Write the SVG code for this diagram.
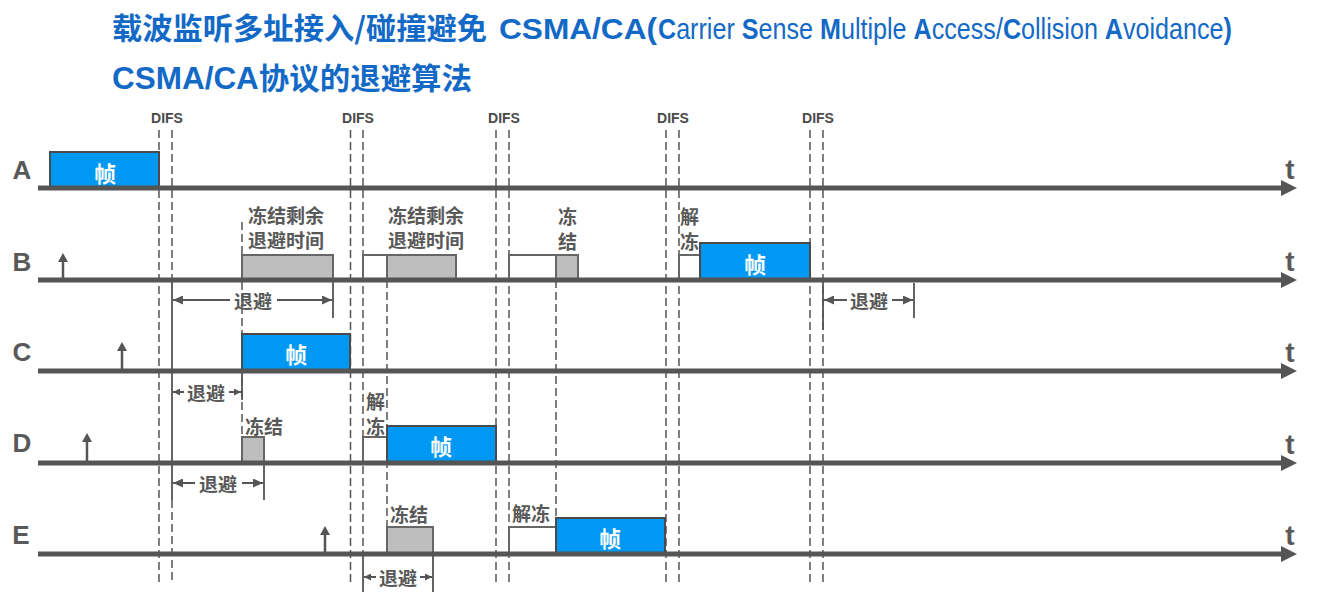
<svg xmlns="http://www.w3.org/2000/svg" width="1325" height="594" viewBox="0 0 1325 594">
<defs>
<style>
.t1{font-family:"Noto Sans CJK SC","Liberation Sans",sans-serif;font-weight:bold;font-size:30px;fill:#1369C6}
.lat{font-family:"Liberation Sans",Arial,sans-serif;font-weight:normal}
.b{font-weight:bold}
.lbl{font-family:"Noto Sans CJK SC",sans-serif;font-weight:bold;font-size:19px;fill:#595959}
.row{font-family:"Liberation Sans",sans-serif;font-weight:bold;font-size:26px;fill:#595959}
.tt{font-family:"Liberation Sans",sans-serif;font-weight:bold;font-size:28px;fill:#595959}
.difs{font-family:"Liberation Sans",sans-serif;font-weight:bold;font-size:14px;fill:#4a4a4a}
.frm{fill:#0098F2;stroke:#4a4a4a;stroke-width:2}
.gry{fill:#BEBEBE;stroke:#666;stroke-width:2}
.wht{fill:#fff;stroke:#666;stroke-width:2}
.ft{font-family:"Noto Sans CJK SC",sans-serif;font-weight:bold;font-size:22px;fill:#fff}
.axis{stroke:#555;stroke-width:5}
.head{fill:#555}
.dash{stroke:#555;stroke-width:1.5;stroke-dasharray:8 4;fill:none}
.tick{stroke:#555;stroke-width:1.8}
.bo{stroke:#555;stroke-width:2;marker-end:url(#sm)}
.bos{stroke:#555;stroke-width:2;marker-end:url(#xs)}
.up{stroke:#555;stroke-width:2.5}
</style>
<marker id="sm" markerUnits="userSpaceOnUse" markerWidth="10" markerHeight="9" refX="10" refY="4.5" orient="auto"><path d="M0,0 L10,4.5 L0,9 z" fill="#555"/></marker>
<marker id="xs" markerUnits="userSpaceOnUse" markerWidth="7" markerHeight="7" refX="7" refY="3.5" orient="auto"><path d="M0,0 L7,3.5 L0,7 z" fill="#555"/></marker>
</defs>
<rect width="1325" height="594" fill="#fff"/>

<g id="title">
<text class="t1" x="112" y="39" textLength="375" lengthAdjust="spacingAndGlyphs">载波监听多址接入/碰撞避免</text>
<text class="t1 lat b" x="499" y="39" font-size="31" textLength="158" lengthAdjust="spacingAndGlyphs">CSMA/CA(</text>
<text class="t1 lat" font-size="32" transform="translate(658,39) scale(0.838,1)"><tspan class="b">C</tspan>arrier <tspan class="b">S</tspan>ense <tspan class="b">M</tspan>ultiple <tspan class="b">A</tspan>ccess/<tspan class="b">C</tspan>ollision <tspan class="b">A</tspan>voidance<tspan class="b">)</tspan></text>
<text class="t1" x="112" y="89" font-size="31" textLength="360" lengthAdjust="spacingAndGlyphs"><tspan class="lat b" font-size="31">CSMA/CA</tspan>协议的退避算法</text>
</g>

<g id="difs-lines">
<path class="dash" d="M159,130V583 M172,130V280 M350.5,130V583 M363,130V554 M496,130V583 M509,130V583 M666,130V583 M679,130V583 M810,130V583 M823,130V583 M172,500V583"/>
<path class="dash" d="M242,222V437 M387,280V527 M556,280V518"/>
<text class="difs" x="167" y="123" text-anchor="middle">DIFS</text>
<text class="difs" x="358" y="123" text-anchor="middle">DIFS</text>
<text class="difs" x="504" y="123" text-anchor="middle">DIFS</text>
<text class="difs" x="673" y="123" text-anchor="middle">DIFS</text>
<text class="difs" x="818" y="123" text-anchor="middle">DIFS</text>
</g>

<g id="row-A">
<text class="row" x="22" y="170" text-anchor="middle" dominant-baseline="central">A</text>
<rect class="frm" x="50" y="152" width="109" height="35"/>
<text class="ft" x="105" y="172" text-anchor="middle" dominant-baseline="central">帧</text>
<line class="axis" x1="38" y1="188" x2="1284" y2="188"/>
<polygon class="head" points="1281,180 1297,188 1281,196"/>
<text class="tt" x="1290" y="179" text-anchor="middle">t</text>
</g>

<g id="row-B">
<text class="row" x="22" y="262" text-anchor="middle" dominant-baseline="central">B</text>
<line class="up" x1="63" y1="280" x2="63" y2="259"/>
<polygon class="head" points="58,262 63,253 68,262"/>
<rect class="gry" x="242" y="255" width="91" height="25"/>
<text class="lbl" x="248" y="214" dominant-baseline="central">冻结剩余</text>
<text class="lbl" x="248" y="239" dominant-baseline="central">退避时间</text>
<rect class="wht" x="363" y="255" width="24" height="25"/>
<rect class="gry" x="387" y="255" width="69" height="25"/>
<text class="lbl" x="388" y="214" dominant-baseline="central">冻结剩余</text>
<text class="lbl" x="388" y="239" dominant-baseline="central">退避时间</text>
<rect class="wht" x="509" y="255" width="47" height="25"/>
<rect class="gry" x="556" y="255" width="22" height="25"/>
<text class="lbl" x="558" y="215" dominant-baseline="central">冻</text>
<text class="lbl" x="558" y="240" dominant-baseline="central">结</text>
<rect class="wht" x="679" y="255" width="21" height="25"/>
<rect class="frm" x="700" y="243" width="110" height="37"/>
<text class="ft" x="755" y="263" text-anchor="middle" dominant-baseline="central">帧</text>
<text class="lbl" x="680" y="215" dominant-baseline="central">解</text>
<text class="lbl" x="680" y="240" dominant-baseline="central">冻</text>
<line class="axis" x1="38" y1="280" x2="1284" y2="280"/>
<polygon class="head" points="1281,272 1297,280 1281,288"/>
<text class="tt" x="1290" y="271" text-anchor="middle">t</text>
</g>

<g id="row-C">
<text class="row" x="22" y="352" text-anchor="middle" dominant-baseline="central">C</text>
<line class="up" x1="122" y1="371" x2="122" y2="348"/>
<polygon class="head" points="117,351 122,342 127,351"/>
<rect class="frm" x="242" y="334" width="108" height="37"/>
<text class="ft" x="296" y="353" text-anchor="middle" dominant-baseline="central">帧</text>
<line class="axis" x1="38" y1="371" x2="1284" y2="371"/>
<polygon class="head" points="1281,363 1297,371 1281,379"/>
<text class="tt" x="1290" y="362" text-anchor="middle">t</text>
</g>

<g id="row-D">
<text class="row" x="22" y="443" text-anchor="middle" dominant-baseline="central">D</text>
<line class="up" x1="87" y1="463" x2="87" y2="439"/>
<polygon class="head" points="82,442 87,433 92,442"/>
<rect class="gry" x="242" y="437" width="22" height="26"/>
<text class="lbl" x="245" y="425" dominant-baseline="central">冻结</text>
<rect class="wht" x="363" y="437" width="24" height="26"/>
<text class="lbl" x="366" y="400" dominant-baseline="central">解</text>
<text class="lbl" x="366" y="425" dominant-baseline="central">冻</text>
<rect class="frm" x="387" y="426" width="109" height="37"/>
<text class="ft" x="441" y="445" text-anchor="middle" dominant-baseline="central">帧</text>
<line class="axis" x1="38" y1="463" x2="1284" y2="463"/>
<polygon class="head" points="1281,455 1297,463 1281,471"/>
<text class="tt" x="1290" y="454" text-anchor="middle">t</text>
</g>

<g id="row-E">
<text class="row" x="21" y="535" text-anchor="middle" dominant-baseline="central">E</text>
<line class="up" x1="325" y1="554" x2="325" y2="532"/>
<polygon class="head" points="320,535 325,526 330,535"/>
<rect class="gry" x="387" y="527" width="46" height="27"/>
<text class="lbl" x="390" y="513" dominant-baseline="central">冻结</text>
<rect class="wht" x="509" y="527" width="47" height="27"/>
<text class="lbl" x="512" y="512" dominant-baseline="central">解冻</text>
<rect class="frm" x="556" y="518" width="109" height="36"/>
<text class="ft" x="610" y="537" text-anchor="middle" dominant-baseline="central">帧</text>
<line class="axis" x1="38" y1="554" x2="1284" y2="554"/>
<polygon class="head" points="1281,546 1297,554 1281,562"/>
<text class="tt" x="1290" y="545" text-anchor="middle">t</text>
</g>

<g id="connectors">
<path class="tick" fill="none" d="M172,280V500 M333,280V318 M242,371V400 M264,463V500 M363,554V592 M433,554V592 M823,280V330 M914,283V318"/>
<line class="bo" x1="230" y1="300" x2="173" y2="300"/>
<line class="bo" x1="277" y1="300" x2="332" y2="300"/>
<text class="lbl" x="253" y="300" text-anchor="middle" dominant-baseline="central">退避</text>
<line class="bo" x1="847" y1="300" x2="824" y2="300"/>
<line class="bo" x1="892" y1="300" x2="913" y2="300"/>
<text class="lbl" x="869" y="300" text-anchor="middle" dominant-baseline="central">退避</text>
<line class="bos" x1="184" y1="392" x2="173" y2="392"/>
<line class="bos" x1="229" y1="392" x2="241" y2="392"/>
<text class="lbl" x="206" y="392" text-anchor="middle" dominant-baseline="central">退避</text>
<line class="bo" x1="195" y1="483" x2="173" y2="483"/>
<line class="bo" x1="242" y1="483" x2="263" y2="483"/>
<text class="lbl" x="218" y="483" text-anchor="middle" dominant-baseline="central">退避</text>
<line class="bos" x1="376" y1="577" x2="364" y2="577"/>
<line class="bos" x1="420" y1="577" x2="432" y2="577"/>
<text class="lbl" x="398" y="577" text-anchor="middle" dominant-baseline="central">退避</text>
</g>
</svg>
